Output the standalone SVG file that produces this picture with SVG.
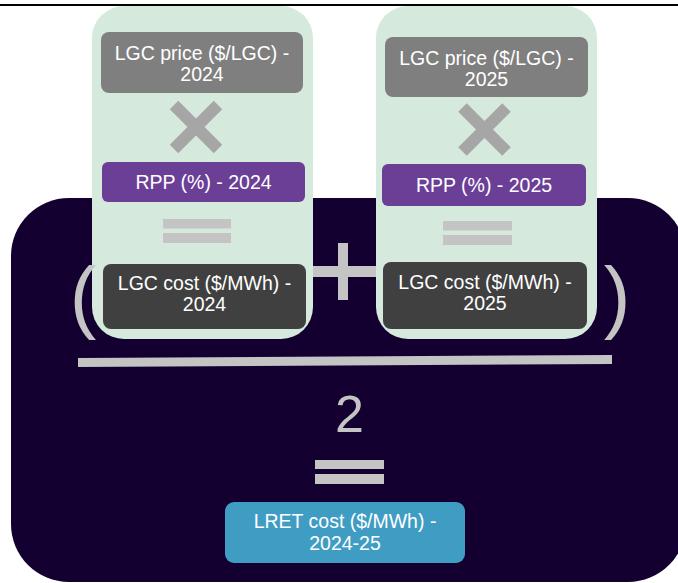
<svg xmlns="http://www.w3.org/2000/svg" width="678" height="583" viewBox="0 0 678 583">
<defs>
<style>
.lbl{font-family:"Liberation Sans",Arial,sans-serif;font-size:19.5px;fill:#ffffff;text-anchor:middle}
.op{fill:#c4c4c4}
.times{stroke:#a6a6a6;stroke-width:12;stroke-linecap:butt;fill:none}
.green{fill:#d5eadc}
.price{fill:#7f7f7f}
.rpp{fill:#6c3f97}
.cost{fill:#404040}
.lret{fill:#3f9dc4}
.big{font-family:"Liberation Sans",Arial,sans-serif;fill:#c4c4c4;text-anchor:middle}
</style>
</defs>
<rect x="0" y="0" width="678" height="583" fill="#ffffff"/>
<rect x="0" y="4" width="678" height="2" fill="#000000"/>
<g id="background">
<rect x="11" y="198" width="675" height="384" rx="58" ry="58" fill="#130030"/>
</g>
<g id="operators">
<rect class="op" x="300" y="266" width="86" height="11"/>
<rect class="op" x="338" y="243" width="10" height="57"/>
</g>
<g id="column-2024">
<rect class="green" x="92" y="6" width="221" height="333" rx="32" ry="32"/>
</g>
<g id="column-2025">
<rect class="green" x="376" y="6" width="221" height="333" rx="32" ry="32"/>
</g>
<g id="lgc-price-2024">
<rect class="price" x="101" y="32" width="202" height="61" rx="8"/>
<text class="lbl" x="202" y="60">LGC price ($/LGC) -</text>
<text class="lbl" x="202" y="81">2024</text>
</g>
<g id="lgc-price-2025">
<rect class="price" x="385" y="37" width="203" height="60" rx="8"/>
<text class="lbl" x="486.5" y="64.5">LGC price ($/LGC) -</text>
<text class="lbl" x="486.5" y="85.5">2025</text>
</g>
<g id="times-2024">
<line class="times" x1="174" y1="105" x2="218" y2="149"/>
<line class="times" x1="218" y1="105" x2="174" y2="149"/>
</g>
<g id="times-2025">
<line class="times" x1="462.5" y1="107.5" x2="506.5" y2="151.5"/>
<line class="times" x1="506.5" y1="107.5" x2="462.5" y2="151.5"/>
</g>
<g id="rpp-2024">
<rect class="rpp" x="102" y="162" width="203" height="40" rx="6"/>
<text class="lbl" x="203.5" y="189">RPP (%) - 2024</text>
</g>
<g id="rpp-2025">
<rect class="rpp" x="382" y="164" width="204" height="42" rx="6"/>
<text class="lbl" x="484" y="192">RPP (%) - 2025</text>
</g>
<g id="equals-2024">
<rect class="op" x="163" y="219" width="68" height="9.5"/>
<rect class="op" x="163" y="233" width="68" height="10"/>
</g>
<g id="equals-2025">
<rect class="op" x="443" y="221" width="69" height="9.5"/>
<rect class="op" x="443" y="235" width="69" height="10"/>
</g>
<g id="lgc-cost-2024">
<rect class="cost" x="103" y="264" width="203" height="65" rx="8"/>
<text class="lbl" x="204.5" y="290">LGC cost ($/MWh) -</text>
<text class="lbl" x="204.5" y="311">2024</text>
</g>
<g id="lgc-cost-2025">
<rect class="cost" x="383" y="262" width="204" height="67" rx="8"/>
<text class="lbl" x="485" y="289">LGC cost ($/MWh) -</text>
<text class="lbl" x="485" y="310">2025</text>
</g>
<g id="parentheses">
<text class="big" x="83" y="323" font-size="80">(</text>
<text class="big" x="617" y="323" font-size="80">)</text>
</g>
<g id="fraction-bar">
<polygon class="op" points="78,358 612,355 612,364 78,367"/>
</g>
<g id="divisor">
<text class="big" x="349.5" y="432" font-size="52">2</text>
</g>
<g id="equals-final">
<rect class="op" x="315" y="460" width="69" height="9"/>
<rect class="op" x="315" y="474" width="69" height="10"/>
</g>
<g id="lret-cost">
<rect class="lret" x="225" y="502" width="240" height="61" rx="9"/>
<text class="lbl" x="345" y="528">LRET cost ($/MWh) -</text>
<text class="lbl" x="345" y="550">2024-25</text>
</g>
</svg>
